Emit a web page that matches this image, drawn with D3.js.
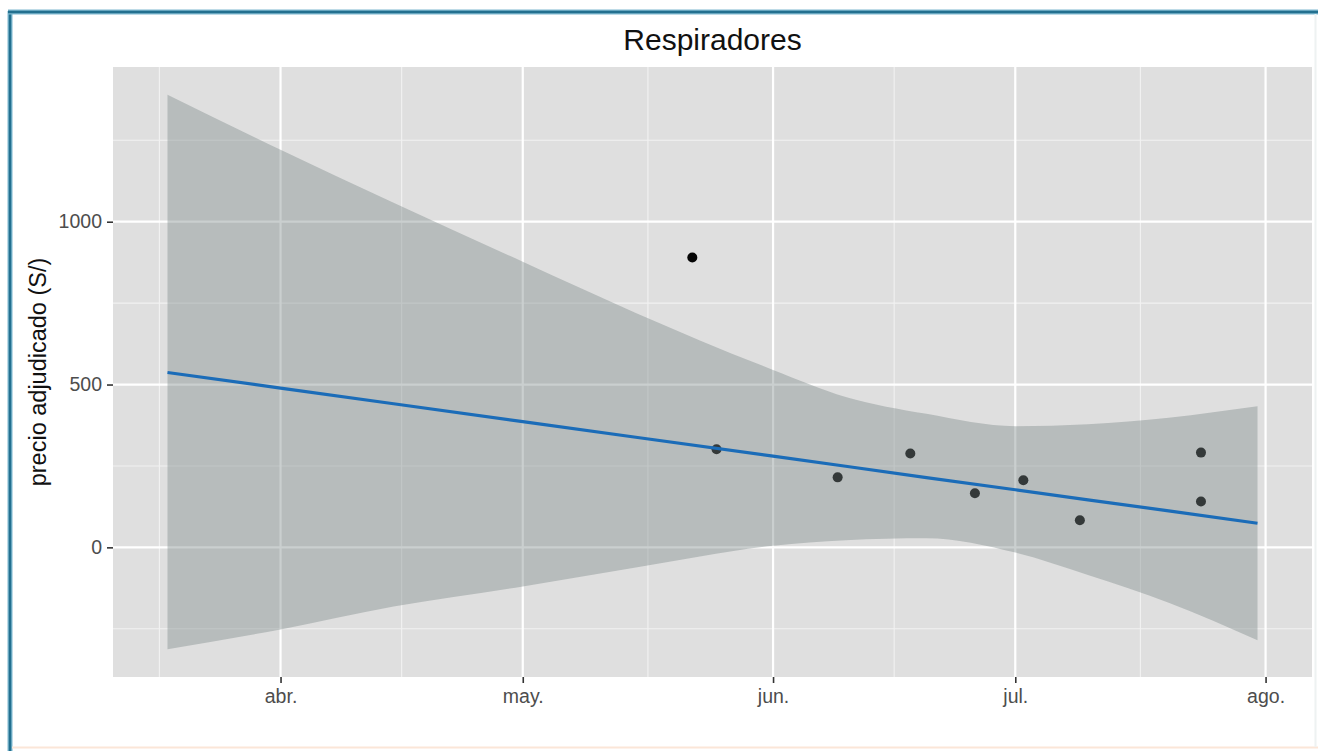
<!DOCTYPE html>
<html>
<head>
<meta charset="utf-8">
<script src="https://cdn.jsdelivr.net/npm/d3@7"></script>
<style>
  html, body { margin: 0; padding: 0; background: #ffffff; }
  svg { display: block; }
  text { font-family: "Liberation Sans", Arial, sans-serif; }
</style>
</head>
<body>
<svg id="chart" width="1318" height="751"></svg>
<script>
// Adjudicated prices for ventilators (2020) with a linear fit and its confidence band
const chartTitle = "Respiradores";
const yTitle = "precio adjudicado (S/)";

// Observed awards: date and price (S/)
const pointDates = ["2020-05-22", "2020-05-25", "2020-06-09", "2020-06-18", "2020-06-26",
                    "2020-07-02", "2020-07-09", "2020-07-24", "2020-07-24"];
const pointPrices = [890, 301, 215, 288, 166, 206, 83, 291, 141];

// Fitted line and confidence band, sampled along the fitted range
const bandDates = ["2020-03-18", "2020-04-01", "2020-04-15", "2020-05-01", "2020-05-15", "2020-06-01",
                   "2020-06-10", "2020-06-20", "2020-07-01", "2020-07-10", "2020-07-20", "2020-07-31"];
const fitValues = [537, 489, 441, 386, 338, 280, 249, 214, 177, 146, 112, 74];
const bandUpper = [1390, 1221, 1058, 877, 720, 545, 462, 410, 372, 378, 398, 433];
const bandLower = [-313, -252, -182, -120, -62, 5, 22, 28, -16, -85, -170, -285];

// Axis breaks
const xTickDates = ["2020-04-01", "2020-05-01", "2020-06-01", "2020-07-01", "2020-08-01"];
const xTickLabels = ["abr.", "may.", "jun.", "jul.", "ago."];
const yTickValues = [0, 500, 1000];
const yTickLabels = ["0", "500", "1000"];
const yMinorValues = [-250, 250, 750, 1250];

const parse = d3.utcParse("%Y-%m-%d");

const svg = d3.select("#chart");
const W = 1318, H = 751;
const panel = { left: 113, right: 1312, top: 67, bottom: 677 };

// Outer frame
svg.append("rect").attr("x", 0).attr("y", 0).attr("width", W).attr("height", H).attr("fill", "#ffffff");
svg.append("line").attr("x1", 10).attr("x2", 10).attr("y1", 11).attr("y2", 751)
  .attr("stroke", "#7fb8cf").attr("stroke-width", 5);
svg.append("line").attr("x1", 10).attr("x2", 10).attr("y1", 11).attr("y2", 751)
  .attr("stroke", "#23708f").attr("stroke-width", 2.5);
svg.append("line").attr("x1", 8).attr("x2", 1318).attr("y1", 12).attr("y2", 12)
  .attr("stroke", "#7fb8cf").attr("stroke-width", 5);
svg.append("line").attr("x1", 8).attr("x2", 1318).attr("y1", 12).attr("y2", 12)
  .attr("stroke", "#23708f").attr("stroke-width", 2.5);
svg.append("line").attr("x1", 12).attr("x2", 1318).attr("y1", 747.5).attr("y2", 747.5)
  .attr("stroke", "#fbe6d8").attr("stroke-width", 2);
svg.append("line").attr("x1", 1315.5).attr("x2", 1315.5).attr("y1", 14).attr("y2", 747)
  .attr("stroke", "#eef2f2").attr("stroke-width", 2);

// Scales: data range expanded by 5% on each side
const bd = bandDates.map(parse);
const xExt = d3.extent(bd);
const xPad = (xExt[1] - xExt[0]) * 0.05;
const x = d3.scaleUtc()
  .domain([new Date(+xExt[0] - xPad), new Date(+xExt[1] + xPad)])
  .range([panel.left, panel.right]);

const yExt = [d3.min(bandLower), d3.max(bandUpper)];
const yPad = (yExt[1] - yExt[0]) * 0.05;
const y = d3.scaleLinear()
  .domain([yExt[0] - yPad, yExt[1] + yPad])
  .range([panel.bottom, panel.top]);

// Panel background
svg.append("rect")
  .attr("x", panel.left).attr("y", panel.top)
  .attr("width", panel.right - panel.left).attr("height", panel.bottom - panel.top)
  .attr("fill", "#dfdfdf");

const grid = svg.append("g");

// Minor vertical gridlines sit halfway between major month breaks
const majorDates = xTickDates.map(parse);
const step = majorDates[1] - majorDates[0];
const extMajors = [new Date(+majorDates[0] - step), ...majorDates, new Date(+majorDates[majorDates.length - 1] + step)];
const minorX = [];
for (let i = 0; i < extMajors.length - 1; i++) {
  const m = new Date((+extMajors[i] + +extMajors[i + 1]) / 2);
  if (x(m) > panel.left && x(m) < panel.right) minorX.push(m);
}
grid.selectAll(".xminor").data(minorX).join("line")
  .attr("x1", d => x(d)).attr("x2", d => x(d))
  .attr("y1", panel.top).attr("y2", panel.bottom)
  .attr("stroke", "#f2f2f2").attr("stroke-width", 1.1);
grid.selectAll(".yminor").data(yMinorValues).join("line")
  .attr("x1", panel.left).attr("x2", panel.right)
  .attr("y1", d => y(d)).attr("y2", d => y(d))
  .attr("stroke", "#f2f2f2").attr("stroke-width", 1.1);
grid.selectAll(".xmajor").data(majorDates).join("line")
  .attr("x1", d => x(d)).attr("x2", d => x(d))
  .attr("y1", panel.top).attr("y2", panel.bottom)
  .attr("stroke", "#ffffff").attr("stroke-width", 2.2);
grid.selectAll(".ymajor").data(yTickValues).join("line")
  .attr("x1", panel.left).attr("x2", panel.right)
  .attr("y1", d => y(d)).attr("y2", d => y(d))
  .attr("stroke", "#ffffff").attr("stroke-width", 2.2);

// Points (drawn under the translucent band)
const pts = pointDates.map((d, i) => ({ date: parse(d), price: pointPrices[i] }));
svg.append("g").selectAll("circle").data(pts).join("circle")
  .attr("cx", d => x(d.date)).attr("cy", d => y(d.price))
  .attr("r", 5).attr("fill", "#050505");

// Confidence band
const band = bd.map((d, i) => ({ date: d, lo: bandLower[i], hi: bandUpper[i], fit: fitValues[i] }));
svg.append("path")
  .datum(band)
  .attr("d", d3.area().curve(d3.curveMonotoneX)
    .x(d => x(d.date)).y0(d => y(d.lo)).y1(d => y(d.hi)))
  .attr("fill", "rgb(122,136,136)").attr("fill-opacity", 0.4);

// Fitted line
svg.append("path")
  .datum(band)
  .attr("d", d3.line().x(d => x(d.date)).y(d => y(d.fit)))
  .attr("fill", "none").attr("stroke", "#1b6cb8").attr("stroke-width", 3.2);

// Axes
const xAxis = d3.axisBottom(x).tickValues(majorDates)
  .tickFormat((d, i) => xTickLabels[i]).tickSize(6).tickPadding(6);
const gx = svg.append("g").attr("transform", `translate(0,${panel.bottom})`).call(xAxis);
gx.select(".domain").remove();
gx.selectAll(".tick line").attr("stroke", "#333333").attr("stroke-width", 1.6);
gx.selectAll(".tick text").attr("fill", "#4d4d4d")
  .style("font-size", "19.5px").style("font-family", "'Liberation Sans', Arial, sans-serif");

const yAxis = d3.axisLeft(y).tickValues(yTickValues)
  .tickFormat((d, i) => yTickLabels[i]).tickSize(6).tickPadding(5);
const gy = svg.append("g").attr("transform", `translate(${panel.left},0)`).call(yAxis);
gy.select(".domain").remove();
gy.selectAll(".tick line").attr("stroke", "#333333").attr("stroke-width", 1.6);
gy.selectAll(".tick text").attr("fill", "#4d4d4d")
  .style("font-size", "19.5px").style("font-family", "'Liberation Sans', Arial, sans-serif");

// Titles
svg.append("text")
  .attr("x", (panel.left + panel.right) / 2).attr("y", 50)
  .attr("text-anchor", "middle")
  .attr("fill", "#111111")
  .style("font-size", "30px")
  .text(chartTitle);

svg.append("text")
  .attr("transform", `translate(46,${(panel.top + panel.bottom) / 2}) rotate(-90)`)
  .attr("text-anchor", "middle")
  .attr("fill", "#111111")
  .style("font-size", "23.5px")
  .text(yTitle);
</script>
</body>
</html>
